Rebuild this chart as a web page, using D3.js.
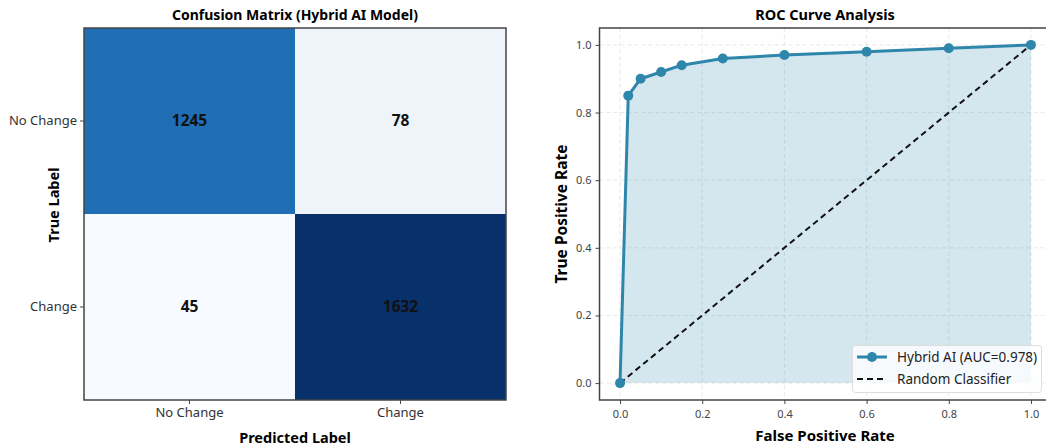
<!DOCTYPE html>
<html><head><meta charset="utf-8">
<script src="https://cdn.jsdelivr.net/npm/d3@7"></script>
<style>body{margin:0;background:#fff;} svg{font-family:"Noto Sans",sans-serif;}</style>
</head><body>
<svg id="chart" width="1046" height="448"></svg>
<script>
// ---- data ----
const classLabels = ["No Change", "Change"];
const cmTrue = ["No Change", "No Change", "Change", "Change"];
const cmPred = ["No Change", "Change", "No Change", "Change"];
const cmValues = [1245, 78, 45, 1632];

const fpr = [0, 0.02, 0.05, 0.10, 0.15, 0.25, 0.40, 0.60, 0.80, 1.0];
const tpr = [0, 0.85, 0.90, 0.92, 0.94, 0.96, 0.97, 0.98, 0.99, 1.0];
const diagX = [0, 1];
const diagY = [0, 1];
const rocTicks = [0, 0.2, 0.4, 0.6, 0.8, 1.0];
const legendLabels = ["Hybrid AI (AUC=0.978)", "Random Classifier"];
const bluesStops = ["#f7fbff","#deebf7","#c6dbef","#9ecae1","#6baed6","#4292c6","#2171b5","#08519c","#08306b"];

const svg = d3.select("#chart");

// ---- Confusion matrix ----
{
  const L = 84, R = 506, T = 28, B = 400;
  const x = d3.scaleBand().domain(classLabels).range([L, R]);
  const y = d3.scaleBand().domain(classLabels).range([T, B]);
  const vmin = d3.min(cmValues), vmax = d3.max(cmValues);
  const color = d3.scaleLinear()
    .domain(bluesStops.map((_, i) => vmin + i / (bluesStops.length - 1) * (vmax - vmin)))
    .range(bluesStops);
  const cells = cmValues.map((v, i) => ({v, t: cmTrue[i], p: cmPred[i]}));
  const g = svg.append("g");
  g.selectAll("rect.cell").data(cells).join("rect")
    .attr("x", d => x(d.p)).attr("y", d => y(d.t))
    .attr("width", x.bandwidth()).attr("height", y.bandwidth())
    .attr("fill", d => d.v === 78 ? "#eef4fa" : color(d.v));
  g.selectAll("text.val").data(cells).join("text")
    .attr("x", d => x(d.p) + x.bandwidth() / 2)
    .attr("y", d => y(d.t) + y.bandwidth() / 2)
    .attr("dy", "0.35em").attr("text-anchor", "middle")
    .attr("font-size", 15.5).attr("font-weight", "bold").attr("fill", "#111")
    .text(d => d.v);
  g.append("rect").attr("x", L).attr("y", T).attr("width", R - L).attr("height", B - T)
    .attr("fill", "none").attr("stroke", "#444").attr("stroke-width", 1.5);
  const xa = g.append("g").attr("transform", `translate(0,${B})`)
    .call(d3.axisBottom(x).tickSize(4).tickPadding(4));
  const ya = g.append("g").attr("transform", `translate(${L},0)`)
    .call(d3.axisLeft(y).tickSize(4).tickPadding(3));
  [xa, ya].forEach(a => {
    a.select(".domain").remove();
    a.selectAll("line").attr("stroke", "#444");
    a.selectAll("text").attr("font-size", 13).attr("fill", "#333").attr("font-family", "Noto Sans");
  });
  g.append("text").attr("x", (L + R) / 2).attr("y", 20).attr("text-anchor", "middle")
    .attr("font-size", 14).attr("font-weight", "bold").text("Confusion Matrix (Hybrid AI Model)");
  g.append("text").attr("x", (L + R) / 2).attr("y", 443).attr("text-anchor", "middle")
    .attr("font-size", 14.5).attr("font-weight", "bold").text("Predicted Label");
  g.append("text").attr("transform", `translate(59,205) rotate(-90)`).attr("text-anchor", "middle")
    .attr("font-size", 14.5).attr("font-weight", "bold").text("True Label");
}

// ---- ROC ----
{
  const T = 28, B = 400;
  const x = d3.scaleLinear().domain([-0.05, 1.05]).range([599.5, 1051.5]);
  const y = d3.scaleLinear().domain([-0.05, 1.05]).range([B, T]);
  const g = svg.append("g");
  const pts = fpr.map((f, i) => [f, tpr[i]]);
  const lineColor = "#2e86ab";
  // grid
  g.selectAll("line.gx").data(rocTicks).join("line")
    .attr("x1", d => x(d)).attr("x2", d => x(d)).attr("y1", T).attr("y2", B)
    .attr("stroke", "#e2e2e2").attr("stroke-dasharray", "4,3").attr("stroke-width", 0.8);
  g.selectAll("line.gy").data(rocTicks).join("line")
    .attr("y1", d => y(d)).attr("y2", d => y(d)).attr("x1", x.range()[0]).attr("x2", x.range()[1])
    .attr("stroke", "#e2e2e2").attr("stroke-dasharray", "4,3").attr("stroke-width", 0.8);
  // fill
  g.append("path").datum(pts)
    .attr("d", d3.area().x(d => x(d[0])).y0(y(0)).y1(d => y(d[1])))
    .attr("fill", lineColor).attr("fill-opacity", 0.2);
  // diagonal
  g.append("path").datum(diagX.map((v, i) => [v, diagY[i]]))
    .attr("d", d3.line().x(d => x(d[0])).y(d => y(d[1])))
    .attr("stroke", "#111").attr("stroke-width", 2).attr("stroke-dasharray", "6,4").attr("fill", "none");
  // curve
  g.append("path").datum(pts)
    .attr("d", d3.line().x(d => x(d[0])).y(d => y(d[1])))
    .attr("stroke", lineColor).attr("stroke-width", 3).attr("fill", "none").attr("stroke-linejoin", "round");
  g.selectAll("circle").data(pts).join("circle")
    .attr("cx", d => x(d[0])).attr("cy", d => y(d[1])).attr("r", 5).attr("fill", lineColor);
  // frame
  g.append("rect").attr("x", x.range()[0]).attr("y", T).attr("width", x.range()[1] - x.range()[0]).attr("height", B - T)
    .attr("fill", "none").attr("stroke", "#444").attr("stroke-width", 1.5);
  const xa = g.append("g").attr("transform", `translate(0,${B})`)
    .call(d3.axisBottom(x).tickValues(rocTicks).tickFormat(d3.format(".1f")).tickSize(4).tickPadding(6));
  const ya = g.append("g").attr("transform", `translate(${x.range()[0]},0)`)
    .call(d3.axisLeft(y).tickValues(rocTicks).tickFormat(d3.format(".1f")).tickSize(4).tickPadding(4));
  [xa, ya].forEach(a => {
    a.select(".domain").remove();
    a.selectAll("line").attr("stroke", "#444");
    a.selectAll("text").attr("font-size", 11).attr("fill", "#444").attr("font-family", "Noto Sans");
  });
  g.append("text").attr("x", 825).attr("y", 20).attr("text-anchor", "middle")
    .attr("font-size", 14.5).attr("font-weight", "bold").text("ROC Curve Analysis");
  g.append("text").attr("x", 825).attr("y", 441).attr("text-anchor", "middle")
    .attr("font-size", 15).attr("font-weight", "bold").text("False Positive Rate");
  g.append("text").attr("transform", `translate(567,214) rotate(-90)`).attr("text-anchor", "middle")
    .attr("font-size", 15.5).attr("font-weight", "bold").text("True Positive Rate");
  // legend
  const lg = g.append("g");
  lg.append("rect").attr("x", 852.5).attr("y", 345.5).attr("width", 189).attr("height", 47).attr("rx", 3)
    .attr("fill", "#fff").attr("fill-opacity", 0.8).attr("stroke", "#dddddd");
  lg.append("line").attr("x1", 857).attr("x2", 887).attr("y1", 357).attr("y2", 357)
    .attr("stroke", lineColor).attr("stroke-width", 3);
  lg.append("circle").attr("cx", 872).attr("cy", 357).attr("r", 5).attr("fill", lineColor);
  lg.append("line").attr("x1", 857).attr("x2", 887).attr("y1", 379).attr("y2", 379)
    .attr("stroke", "#111").attr("stroke-width", 2).attr("stroke-dasharray", "6,4");
  lg.selectAll("text").data(legendLabels).join("text")
    .attr("x", 897).attr("y", (d, i) => 357 + i * 22).attr("dy", "0.35em")
    .attr("font-size", 13.5).attr("fill", "#222").text(d => d);
}
</script>
</body></html>
